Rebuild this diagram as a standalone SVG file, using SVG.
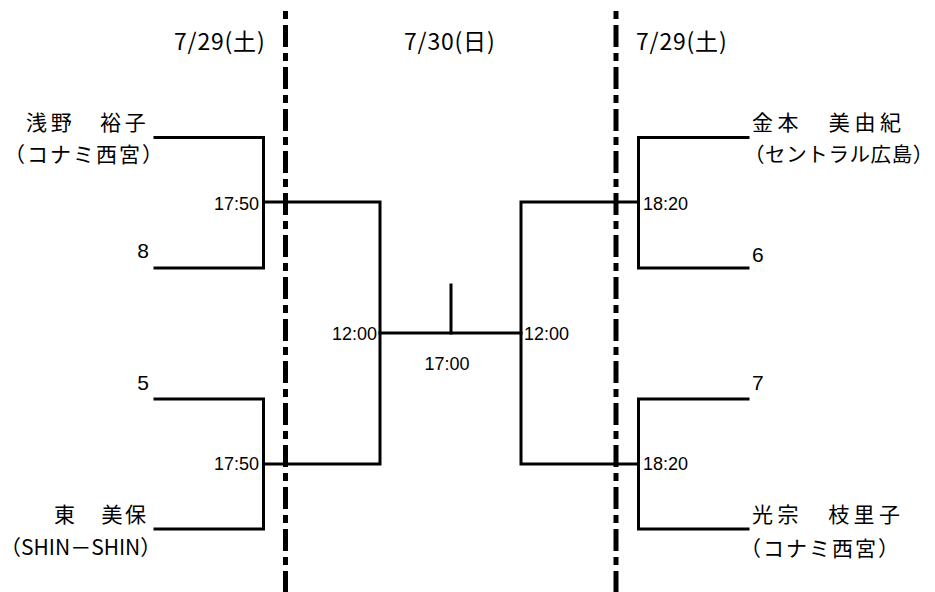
<svg xmlns="http://www.w3.org/2000/svg" width="935" height="592" viewBox="0 0 935 592">
<style>
.ln{stroke:#000;stroke-width:3;fill:none;stroke-linecap:square}
.dd{stroke:#000;stroke-width:5;fill:none;stroke-dasharray:8 6 22 6}
.jp{font-family:"Noto Sans CJK JP","Liberation Sans",sans-serif;fill:#000}
.nm{font-size:21px}
.dt{font-size:23px;letter-spacing:0.8px}
.tm{font-family:"Liberation Sans",Arial,sans-serif;font-size:18px;fill:#000}
.sc{font-family:"Liberation Sans",Arial,sans-serif;font-size:21px;fill:#000}
</style>
<rect width="935" height="592" fill="#fff"/>
<g id="connectors">
<path class="ln" d="M155,137.5H263.5V268H155"/>
<path class="ln" d="M155,399H263.5V529H155"/>
<path class="ln" d="M263.5,202H380V464H263.5"/>
<path class="ln" d="M380,333H521"/>
<path class="ln" d="M451,285V333"/>
<path class="ln" d="M748,137.5H638.5V268H748"/>
<path class="ln" d="M748,399H638.5V529H748"/>
<path class="ln" d="M638.5,202H521V464H638.5"/>
</g>
<g id="dividers">
<line class="dd" x1="285.5" y1="11" x2="285.5" y2="592"/>
<line class="dd" x1="616" y1="11" x2="616" y2="592"/>
</g>
<g id="dates">
<text class="jp dt" x="174" y="50">7/29(土)</text>
<text class="jp dt" x="404" y="50">7/30(日)</text>
<text class="jp dt" x="636" y="50">7/29(土)</text>
</g>
<g id="player-asano">
<text class="jp nm" x="26" y="130" letter-spacing="3.7">浅野　裕子</text>
<text class="jp nm" x="4" y="162" letter-spacing="2">（コナミ西宮）</text>
</g>
<g id="player-kanemoto">
<text class="jp nm" x="752" y="130" letter-spacing="4.6">金本　美由紀</text>
<text class="jp" x="744" y="162" font-size="20.5" letter-spacing="0.6">（セントラル広島）</text>
</g>
<g id="player-higashi">
<text class="jp nm" x="54" y="522" letter-spacing="2.7">東　美保</text>
<text class="jp nm" x="0" y="555">（SHIN－SHIN）</text>
</g>
<g id="player-mitsumune">
<text class="jp nm" x="752" y="522" letter-spacing="4.4">光宗　枝里子</text>
<text class="jp nm" x="740" y="556" letter-spacing="2">（コナミ西宮）</text>
</g>
<g id="scores">
<text class="sc" x="149" y="258" text-anchor="end">8</text>
<text class="sc" x="149" y="390" text-anchor="end">5</text>
<text class="sc" x="752" y="262">6</text>
<text class="sc" x="752" y="390">7</text>
</g>
<g id="times">
<text class="tm" x="259" y="210" text-anchor="end">17:50</text>
<text class="tm" x="259" y="470" text-anchor="end">17:50</text>
<text class="tm" x="377" y="340" text-anchor="end">12:00</text>
<text class="tm" x="524" y="340">12:00</text>
<text class="tm" x="447" y="370" text-anchor="middle">17:00</text>
<text class="tm" x="643" y="210">18:20</text>
<text class="tm" x="643" y="470">18:20</text>
</g>
</svg>
